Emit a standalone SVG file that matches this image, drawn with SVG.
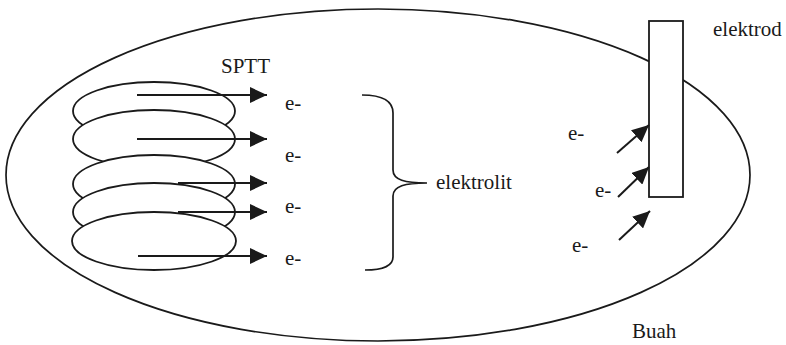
<svg xmlns="http://www.w3.org/2000/svg" width="786" height="345" viewBox="0 0 786 345">
<style>
text{font-family:"Liberation Serif","Times New Roman","DejaVu Serif",serif;font-size:21px;fill:#1a1a1a}
.o{fill:none;stroke:#1a1a1a;stroke-width:1.7}
.c{fill:#fff;stroke:#1a1a1a;stroke-width:1.8}
.a{fill:none;stroke:#1a1a1a;stroke-width:2;marker-end:url(#ah)}
</style>
<defs>
<marker id="ah" markerUnits="userSpaceOnUse" markerWidth="18" markerHeight="16" refX="17" refY="8" orient="auto">
<path d="M0,0 L17,8 L0,16 z" fill="#1a1a1a"/>
</marker>
</defs>
<rect width="786" height="345" fill="#fff"/>
<g id="buah">
<ellipse class="o" cx="378" cy="175" rx="372" ry="166"/>
<text x="632" y="338" font-family="Liberation Serif, serif">Buah</text>
</g>
<g id="elektrod">
<rect class="c" x="649" y="21" width="34" height="176" stroke-width="1.7"/>
<text x="713" y="36" font-family="Liberation Serif, serif">elektrod</text>
</g>
<g id="sptt">
<ellipse class="c" cx="154" cy="111" rx="81" ry="29"/>
<ellipse class="c" cx="154" cy="139" rx="81" ry="29"/>
<ellipse class="c" cx="154" cy="184" rx="81" ry="29"/>
<ellipse class="c" cx="154" cy="212" rx="81" ry="29"/>
<ellipse class="c" cx="154" cy="241" rx="82" ry="29"/>
<text x="221" y="73" font-family="Liberation Serif, serif">SPTT</text>
</g>
<g id="elektrolit">
<path class="o" d="M362,95 C380,95 393,100 393,113 L393,170 C393,180 405,183 427,183 C405,183 393,186 393,196 L393,257 C393,266 382,270 365,270" stroke-width="2"/>
<text x="436" y="189" font-family="Liberation Serif, serif">elektrolit</text>
</g>
<g id="electrons" font-family="Liberation Serif, serif">
<text x="285" y="110">e-</text>
<text x="285" y="162">e-</text>
<text x="285" y="213">e-</text>
<text x="285" y="265">e-</text>
<text x="568" y="140">e-</text>
<text x="595" y="197">e-</text>
<text x="572" y="252">e-</text>
</g>
<g id="connectors">
<line class="a" x1="137" y1="95" x2="267" y2="95"/>
<line class="a" x1="137" y1="139" x2="267" y2="139"/>
<line class="a" x1="178" y1="183" x2="267" y2="183"/>
<line class="a" x1="178" y1="212" x2="267" y2="212"/>
<line class="a" x1="138" y1="256" x2="267" y2="256"/>
<line class="a" x1="617" y1="153" x2="649" y2="125"/>
<line class="a" x1="618" y1="197" x2="649" y2="167"/>
<line class="a" x1="619" y1="240" x2="650" y2="211"/>
</g>
</svg>
